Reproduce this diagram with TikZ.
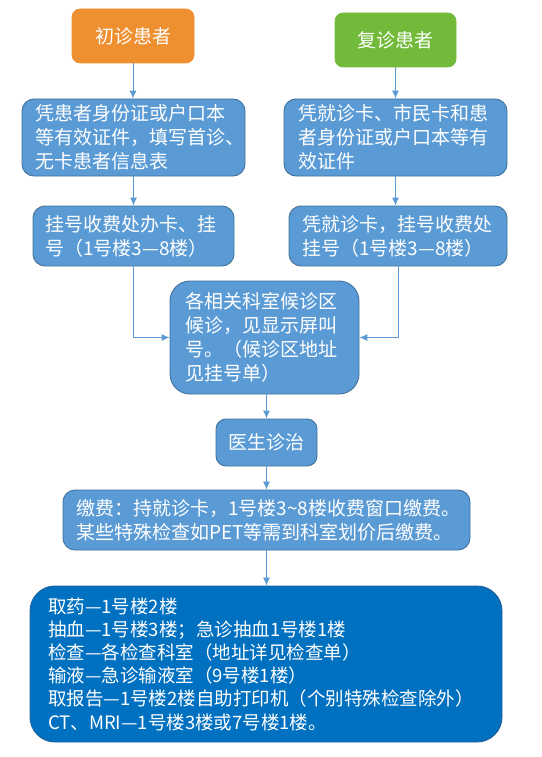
\documentclass[tikz,border=0pt]{standalone}
\usepackage{fontspec}
\setmainfont{Noto Sans CJK SC}
\usetikzlibrary{arrows.meta}
\definecolor{boxblue}{HTML}{5B9BD5}
\definecolor{boxedge}{HTML}{41719C}
\definecolor{orangebox}{HTML}{EE8F30}
\definecolor{greenbox}{HTML}{72BB3A}
\definecolor{darkblue}{HTML}{0070C0}
\definecolor{darkedge}{HTML}{1F5F99}
\begin{document}
\begin{tikzpicture}[x=1pt,y=-1pt,
  box/.style={draw=boxedge, fill=boxblue, line width=0.9pt, rounded corners=12pt, text=white, align=left,
    font=\fontsize{19}{24}\selectfont, inner sep=0pt},
  titlebox/.style={line width=0.6pt, rounded corners=8pt, text=white, align=center,
    font=\fontsize{19}{24}\selectfont, inner sep=0pt, minimum height=54pt},
  arr/.style={draw=boxblue, line width=1pt, -{Latex[length=8pt,width=7pt]}}]
\fill[white] (0,0) rectangle (541,757);
\useasboundingbox (0,0) rectangle (541,757);

\node[titlebox, fill=orangebox, draw=orangebox, minimum width=122pt] (b1) at (133,36) {初诊患者};
\node[titlebox, fill=greenbox, draw=greenbox, minimum width=121pt] (b2) at (395.5,40) {复诊患者};

\node[box, minimum width=223pt, minimum height=77pt, text width=197pt] (b3) at (133.5,137.5)
  {凭患者身份证或户口本\\等有效证件，填写首诊、\\无卡患者信息表};
\node[box, minimum width=223pt, minimum height=77pt, text width=195pt] (b4) at (395.5,137.5)
  {凭就诊卡、市民卡和患\\者身份证或户口本等有\\效证件};

\node[box, minimum width=201pt, minimum height=60pt, text width=177pt] (b5) at (133.5,236)
  {挂号收费处办卡、挂\\号（1号楼3—8楼）};
\node[box, minimum width=218pt, minimum height=60pt, text width=192pt] (b6) at (398,236)
  {凭就诊卡，挂号收费处\\挂号（1号楼3—8楼）};

\node[box, rounded corners=20pt, minimum width=189pt, minimum height=113pt, text width=159pt] (b7) at (264.5,337.5)
  {各相关科室候诊区\\候诊，见显示屏叫\\号。（候诊区地址\\见挂号单）};

\node[box, rounded corners=10pt, minimum width=101pt, minimum height=47pt, align=center] (b8) at (266.5,442.5)
  {医生诊治};

\node[box, rounded corners=12pt, minimum width=407pt, minimum height=60pt, text width=381pt] (b9) at (266.5,520)
  {缴费：持就诊卡，1号楼3\textasciitilde 8楼收费窗口缴费。\\某些特殊检查如PET等需到科室划价后缴费。};

\node[box, fill=darkblue, draw=darkedge, rounded corners=25pt, minimum width=472pt, minimum height=156pt, text width=436pt,
  font=\fontsize{18.5}{23.2}\selectfont] (b10) at (266,664)
  {取药—1号楼2楼\\
   抽血—1号楼3楼；急诊抽血1号楼1楼\\
   检查—各检查科室（地址详见检查单）\\
   输液—急诊输液室（9号楼1楼）\\
   取报告—1号楼2楼自助打印机（个别特殊检查除外）\\
   CT、MRI—1号楼3楼或7号楼1楼。};

\draw[arr] (b1.south) -- (b1.south |- b3.north);
\draw[arr] (b2.south) -- (b2.south |- b4.north);
\draw[arr] (b3.south) -- (b3.south |- b5.north);
\draw[arr] (b4.south) -- (b4.south |- b6.north);
\draw[arr] (b5.south) |- (b7.west);
\draw[arr] (b6.south) |- (b7.east);
\draw[arr] (b7.south -| b8.north) -- (b8.north);
\draw[arr] (b8.south) -- (b8.south |- b9.north);
\draw[arr] (b9.south -| b8.south) -- (b8.south |- b10.north);
\end{tikzpicture}
\end{document}
